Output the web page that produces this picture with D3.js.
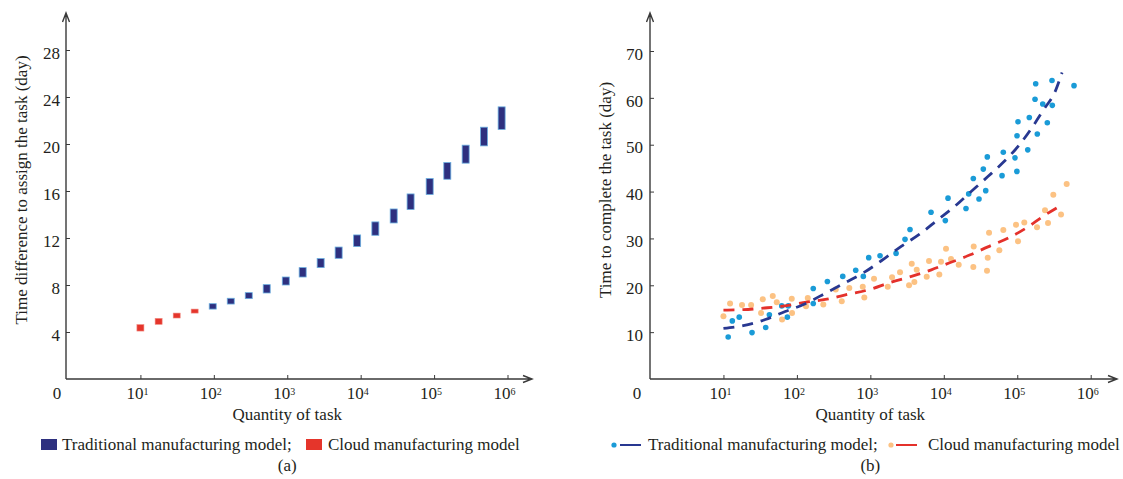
<!DOCTYPE html>
<html><head><meta charset="utf-8">
<script src="https://cdn.jsdelivr.net/npm/d3@7"></script>
<style>
body{margin:0;background:#fff;}
svg{display:block;}
text{font-family:"Liberation Serif","Times New Roman",serif;fill:#231f20;}
</style>
</head><body>
<svg id="c" width="1123" height="479"></svg>
<script>
// ---------- data ----------
const xTickValues = [10, 100, 1000, 10000, 100000, 1000000];
const xTickExps = ["1", "2", "3", "4", "5", "6"];
const yTicksA = [4, 8, 12, 16, 20, 24, 28];
const yTicksB = [10, 20, 30, 40, 50, 60, 70];

// Panel (a): range bars (low/high) of time difference
const aCloudQty  = [10, 17.7, 31.2, 54.8];
const aCloudLow  = [4.08, 4.65, 5.19, 5.61];
const aCloudHigh = [4.63, 5.16, 5.61, 5.95];
const aTradQty  = [96.6, 170, 299, 525, 955, 1622, 2851, 5012, 8954, 15850, 28180, 47860, 87100, 151400, 269200, 478600, 831800];
const aTradLow  = [5.95, 6.38, 6.84, 7.32, 8.0, 8.68, 9.48, 10.27, 11.27, 12.23, 13.28, 14.42, 15.7, 17.0, 18.37, 19.84, 21.24];
const aTradHigh = [6.41, 6.87, 7.35, 8.03, 8.68, 9.48, 10.25, 11.23, 12.26, 13.37, 14.47, 15.75, 17.06, 18.42, 19.9, 21.43, 23.16];

// Panel (b): scatter of completion time
const bTradQty = [11.6, 13.2, 16.4, 24.5, 37.6, 42.2, 62.2, 74.1, 76.4, 167, 167, 260, 421, 632, 802, 950, 1355, 2239, 2965, 3467, 6699, 10490, 11410, 20050, 21830, 25230, 30150, 34510, 37220, 39110, 62080, 64570, 93300, 98900, 139000, 99300, 102400, 145900, 187500, 256600, 174600, 222300, 300100, 178300, 297300, 593000];
const bTradVal = [8.96, 12.4, 13.2, 9.9, 11.0, 13.7, 15.6, 13.2, 15.6, 19.3, 16.1, 20.8, 21.9, 23.2, 21.9, 25.9, 26.3, 26.8, 29.8, 31.9, 35.6, 33.8, 38.6, 36.4, 39.5, 42.8, 38.4, 44.8, 40.2, 47.4, 43.4, 48.4, 47.2, 44.3, 48.9, 51.9, 54.9, 55.8, 52.3, 54.7, 59.7, 58.7, 58.4, 63.0, 63.7, 62.6];
const bCloudQty = [10, 12.3, 17.9, 23.8, 34.3, 32.5, 46.9, 53.2, 62.8, 85.1, 85.9, 140.6, 133, 229, 338, 408, 517, 788, 828, 1122, 1725, 1974, 2535, 3365, 3973, 3660, 4276, 5850, 6290, 8690, 9160, 10720, 12530, 15960, 25230, 25540, 38730, 39630, 41300, 57020, 64600, 96200, 102400, 124700, 185800, 262400, 238800, 394500, 309700, 471000];
const bCloudVal = [13.4, 16.1, 15.8, 15.8, 17.0, 14.1, 17.7, 16.4, 12.7, 17.1, 14.1, 17.3, 15.5, 15.9, 19.1, 16.6, 19.4, 19.7, 17.4, 21.4, 19.7, 21.7, 22.8, 20.0, 20.7, 24.6, 23.3, 21.8, 25.2, 22.3, 25.0, 27.8, 25.6, 24.4, 23.9, 28.3, 23.1, 25.9, 31.2, 27.5, 31.8, 32.9, 29.4, 33.4, 32.4, 33.3, 36.0, 35.1, 39.3, 41.6];
// fitted trend curves (dashed)
const bTradFitQty = [10, 18.6, 37.2, 69.2, 123, 251, 447, 832, 1585, 2692, 4677, 8318, 13490, 22390, 39810, 66070, 107200, 154900, 229100, 331100, 407400];
const bTradFitVal = [10.8, 11.4, 12.7, 14.4, 15.9, 18.4, 20.5, 22.8, 25.8, 28.4, 30.9, 34.0, 36.6, 39.7, 43.2, 46.4, 50.0, 53.4, 57.5, 61.5, 65.4];
const bCloudFitQty = [10, 18.6, 36.3, 69.2, 135, 269, 501, 977, 1862, 3631, 6761, 12020, 22910, 39810, 75860, 134900, 223900, 389000];
const bCloudFitVal = [14.7, 14.8, 15.15, 15.6, 16.4, 17.1, 18.1, 19.1, 20.6, 21.9, 23.3, 24.8, 26.5, 28.2, 30.1, 32.3, 34.7, 37.0];

const legendA = ["Traditional manufacturing model;", "Cloud manufacturing model"];
const legendB = ["Traditional manufacturing model;", "Cloud manufacturing model"];

// ---------- styles ----------
const C = {
  axis: "#3a3a3a",
  barTrad: "#2e307f", barTradStroke: "#6aaee0",
  barCloud: "#e5352b",
  dotTrad: "#1a9bd7", dotCloud: "#fcc283",
  fitTrad: "#283891", fitCloud: "#e4312b"
};
const FS = 17;

const svg = d3.select("#c");
svg.append("rect").attr("width", 1123).attr("height", 479).attr("fill", "#fff");

function panel(opt) {
  const g = svg.append("g");
  const x = opt.x, y = opt.y;
  const x0 = opt.axisX, y0 = 379;
  const ya = g.append("g").attr("transform", `translate(${x0},0)`)
    .call(d3.axisLeft(y).tickValues(opt.yTicks).tickSize(-4).tickPadding(opt.yPad).tickFormat(d3.format("d")));
  ya.select(".domain").remove();
  ya.selectAll(".tick line").attr("stroke", C.axis).attr("stroke-width", 1);
  ya.selectAll(".tick text").attr("font-size", FS).attr("font-family", "Liberation Serif").attr("fill", "#231f20").attr("dy", "0.48em");
  const xa = g.append("g").attr("transform", `translate(0,${y0})`)
    .call(d3.axisBottom(x).tickValues(xTickValues).tickSize(-4).tickFormat(""));
  xa.select(".domain").remove();
  xa.selectAll(".tick line").attr("stroke", C.axis).attr("stroke-width", 1);
  xTickValues.forEach((v, i) => {
    const t = g.append("text").attr("x", x(v) - 3).attr("y", 399).attr("text-anchor", "middle").attr("font-size", FS);
    t.append("tspan").text("10");
    t.append("tspan").attr("font-size", 10).attr("dy", -4).text(xTickExps[i]);
  });
  g.append("text").attr("x", opt.zeroX).attr("y", 399).attr("text-anchor", "middle").attr("font-size", FS).text("0");
  g.append("path").attr("d", `M${x0},${y0}V13M${x0-3.5},22L${x0},13L${x0+3.5},22`)
    .attr("fill", "none").attr("stroke", C.axis).attr("stroke-width", 1.4);
  g.append("path").attr("d", `M${x0},${y0}H${opt.xEnd}M${opt.xEnd-9},${y0-3.5}L${opt.xEnd},${y0}L${opt.xEnd-9},${y0+3.5}`)
    .attr("fill", "none").attr("stroke", C.axis).attr("stroke-width", 1.4);
  g.append("text").attr("x", x(1000)).attr("y", 420).attr("text-anchor", "middle").attr("font-size", FS).text("Quantity of task");
  g.append("text").attr("transform", `translate(${opt.yLabelX},190) rotate(-90)`).attr("text-anchor", "middle")
    .attr("font-size", FS).text(opt.yLabel);
  g.append("text").attr("x", x(1000)).attr("y", 471).attr("text-anchor", "middle").attr("font-size", FS).text(opt.caption);
  return g;
}

// ---------- panel (a) ----------
const xA = d3.scaleLog().domain([1, 1e6]).range([67, 507.5]);
const yA = d3.scaleLinear().domain([0, 28]).range([379, 50]);
const gA = panel({x: xA, y: yA, axisX: 66, yTicks: yTicksA, yPad: 6, zeroX: 57, xEnd: 532,
  yLabelX: 27, yLabel: "Time difference to assign the task (day)", caption: "(a)"});

gA.selectAll("rect.trad").data(aTradQty).join("rect").attr("class", "trad")
  .attr("x", d => xA(d) - 3.5).attr("width", 7)
  .attr("y", (d, i) => yA(aTradHigh[i])).attr("height", (d, i) => yA(aTradLow[i]) - yA(aTradHigh[i]))
  .attr("fill", C.barTrad).attr("stroke", C.barTradStroke).attr("stroke-width", 0.8);
gA.selectAll("rect.cloud").data(aCloudQty).join("rect").attr("class", "cloud")
  .attr("x", d => xA(d) - 3.5).attr("width", 7)
  .attr("y", (d, i) => yA(aCloudHigh[i])).attr("height", (d, i) => yA(aCloudLow[i]) - yA(aCloudHigh[i]))
  .attr("fill", C.barCloud).attr("stroke", "#f08a80").attr("stroke-width", 0.6);

gA.append("rect").attr("x", 41).attr("y", 439).attr("width", 16).attr("height", 11).attr("fill", C.barTrad);
gA.append("text").attr("x", 62).attr("y", 450).attr("font-size", FS).text(legendA[0]);
gA.append("rect").attr("x", 306).attr("y", 439).attr("width", 16).attr("height", 11).attr("fill", C.barCloud);
gA.append("text").attr("x", 328).attr("y", 450).attr("font-size", FS).text(legendA[1]);

// ---------- panel (b) ----------
const xB = d3.scaleLog().domain([1, 1e6]).range([650, 1090.7]);
const yB = d3.scaleLinear().domain([0, 70]).range([379, 51]);
const gB = panel({x: xB, y: yB, axisX: 650, yTicks: yTicksB, yPad: 7, zeroX: 637, xEnd: 1117,
  yLabelX: 611, yLabel: "Time to complete the task (day)", caption: "(b)"});

gB.selectAll("circle.cloud").data(bCloudQty).join("circle").attr("class", "cloud")
  .attr("cx", d => xB(d)).attr("cy", (d, i) => yB(bCloudVal[i])).attr("r", 3).attr("fill", C.dotCloud);
gB.selectAll("circle.trad").data(bTradQty).join("circle").attr("class", "trad")
  .attr("cx", d => xB(d)).attr("cy", (d, i) => yB(bTradVal[i])).attr("r", 2.8).attr("fill", C.dotTrad);

const line = d3.line().curve(d3.curveMonotoneX);
gB.append("path").attr("d", line(bCloudFitQty.map((q, i) => [xB(q), yB(bCloudFitVal[i])])))
  .attr("fill", "none").attr("stroke", C.fitCloud).attr("stroke-width", 2.8).attr("stroke-dasharray", "11,8");
gB.append("path").attr("d", line(bTradFitQty.map((q, i) => [xB(q), yB(bTradFitVal[i])])))
  .attr("fill", "none").attr("stroke", C.fitTrad).attr("stroke-width", 2.8).attr("stroke-dasharray", "11,8");

gB.append("circle").attr("cx", 614).attr("cy", 445).attr("r", 2.6).attr("fill", C.dotTrad);
gB.append("line").attr("x1", 620).attr("x2", 641).attr("y1", 445).attr("y2", 445).attr("stroke", C.fitTrad).attr("stroke-width", 2);
gB.append("text").attr("x", 648).attr("y", 450).attr("font-size", FS).text(legendB[0]);
gB.append("circle").attr("cx", 891).attr("cy", 445).attr("r", 2.6).attr("fill", C.dotCloud);
gB.append("line").attr("x1", 896).attr("x2", 917).attr("y1", 445).attr("y2", 445).attr("stroke", C.fitCloud).attr("stroke-width", 2);
gB.append("text").attr("x", 928).attr("y", 450).attr("font-size", FS).text(legendB[1]);
</script>
</body></html>
